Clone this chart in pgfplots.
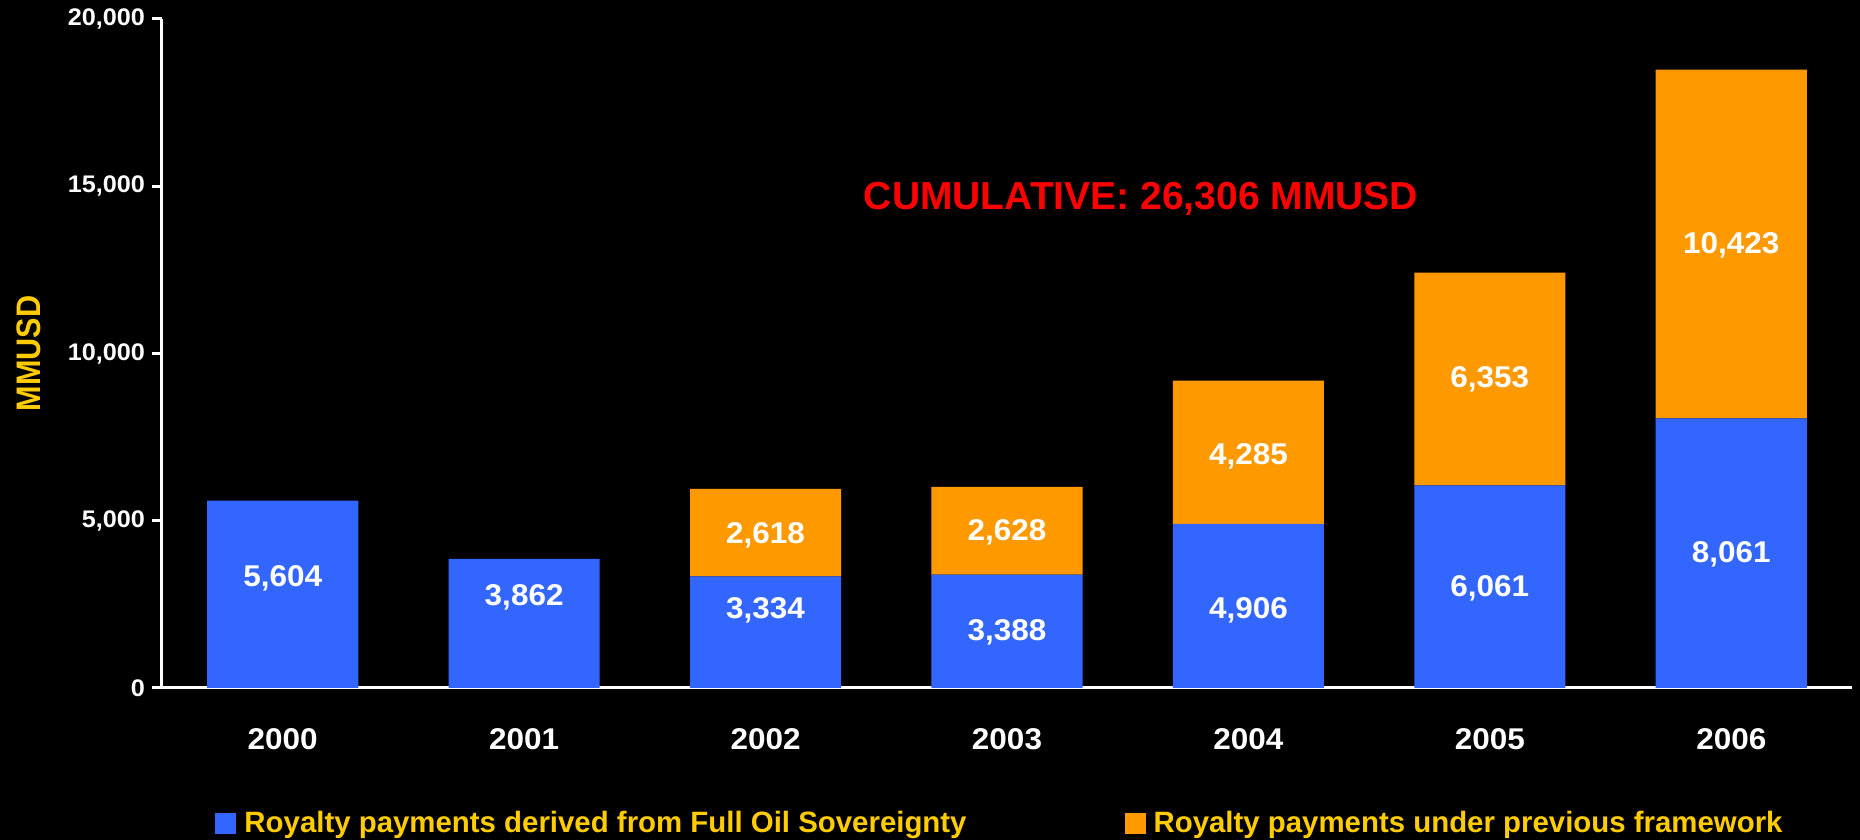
\documentclass[border=0pt]{standalone}
\usepackage{pgfplots}
\pgfplotsset{compat=1.18}
\usepackage{fontspec}
\setmainfont{Liberation Sans}
\newfontfamily\labf[FakeStretch=1.05]{Liberation Sans}
\newfontfamily\narf[FakeStretch=0.9]{Liberation Sans}
\definecolor{barblue}{HTML}{3366FF}
\definecolor{barorange}{HTML}{FF9900}
\definecolor{legyellow}{HTML}{FFCC00}
\begin{document}
\begin{tikzpicture}
\fill[black] (-81pt,-76pt) rectangle (849pt,344pt);
\begin{axis}[
  at={(0,0)}, anchor=south west, scale only axis,
  width=845pt, height=334.5pt,
  ybar stacked, bar width=0.626,
  xmin=-0.5, xmax=6.5, ymin=0, ymax=20000,
  axis x line=bottom, axis y line=left,
  axis line style={white, line width=1.5pt, -},
  xtick={0,1,2,3,4,5,6},
  xticklabels={2000,2001,2002,2003,2004,2005,2006},
  ytick={0,5000,10000,15000,20000},
  scaled y ticks=false,
  /pgf/number format/1000 sep={,},
  /pgf/number format/assume math mode=true,
  tick align=outside, major tick length=5pt,
  ytick style={white, line width=1.5pt},
  xtick style={draw=none},
  yticklabel style={font=\labf\bfseries\fontsize{12}{14}\selectfont, text=white},
  xticklabel style={font=\labf\bfseries\fontsize{15}{18}\selectfont, text=white, yshift=-11.5pt},
  ylabel={MMUSD},
  ylabel style={at={(axis description cs:-0.0787,0.5)}, anchor=center, rotate=0,
    font=\narf\bfseries\fontsize{17}{20}\selectfont, text=legyellow},
  legend columns=2,
  legend style={at={(axis description cs:0.0314,-0.203)}, anchor=west,
    draw=none, fill=none, inner sep=0pt,
    font=\bfseries\fontsize{14.7}{17}\selectfont, text=legyellow,
    /tikz/every even column/.append style={column sep=75pt},
    nodes={inner xsep=4pt}},
  legend cell align=left,
  legend image code/.code={\fill[#1] (0pt,-5.25pt) rectangle (10.5pt,5.25pt);},
]
\addplot[fill=barblue, draw=none] coordinates {(0,5604) (1,3862) (2,3334) (3,3388) (4,4906) (5,6061) (6,8061)};
\addlegendentry{Royalty payments derived from Full Oil Sovereignty}
\addplot[fill=barorange, draw=none] coordinates {(0,0) (1,0) (2,2618) (3,2628) (4,4285) (5,6353) (6,10423)};
\addlegendentry{Royalty payments under previous framework}
\end{axis}
\begin{axis}[
  at={(0,0)}, anchor=south west, scale only axis,
  width=845pt, height=334.5pt,
  xmin=-0.5, xmax=6.5, ymin=0, ymax=20000,
  hide axis, clip=false,
]
\addplot[only marks, mark=none, point meta=explicit symbolic, nodes near coords,
  every node near coord/.append style={anchor=center, font=\labf\bfseries\fontsize{15}{18}\selectfont, text=white}]
  coordinates {(0,3274)[5,604] (1,2705)[3,862] (2,2313)[3,334] (3,1673)[3,388] (4,2313)[4,906] (5,2989)[6,061] (6,3986)[8,061]};
\addplot[only marks, mark=none, point meta=explicit symbolic, nodes near coords,
  every node near coord/.append style={anchor=center, font=\labf\bfseries\fontsize{15}{18}\selectfont, text=white}]
  coordinates {(2,4555)[2,618] (3,4662)[2,628] (4,6940)[4,285] (5,9217)[6,353] (6,13238)[10,423]};
\node[font=\bfseries\fontsize{19.5}{22}\selectfont, text=red] at (axis cs:3.555,14620) {CUMULATIVE: 26,306 MMUSD};
\end{axis}
\pgfresetboundingbox
\useasboundingbox (-81pt,-76pt) rectangle (849pt,344pt);
\end{tikzpicture}
\end{document}
